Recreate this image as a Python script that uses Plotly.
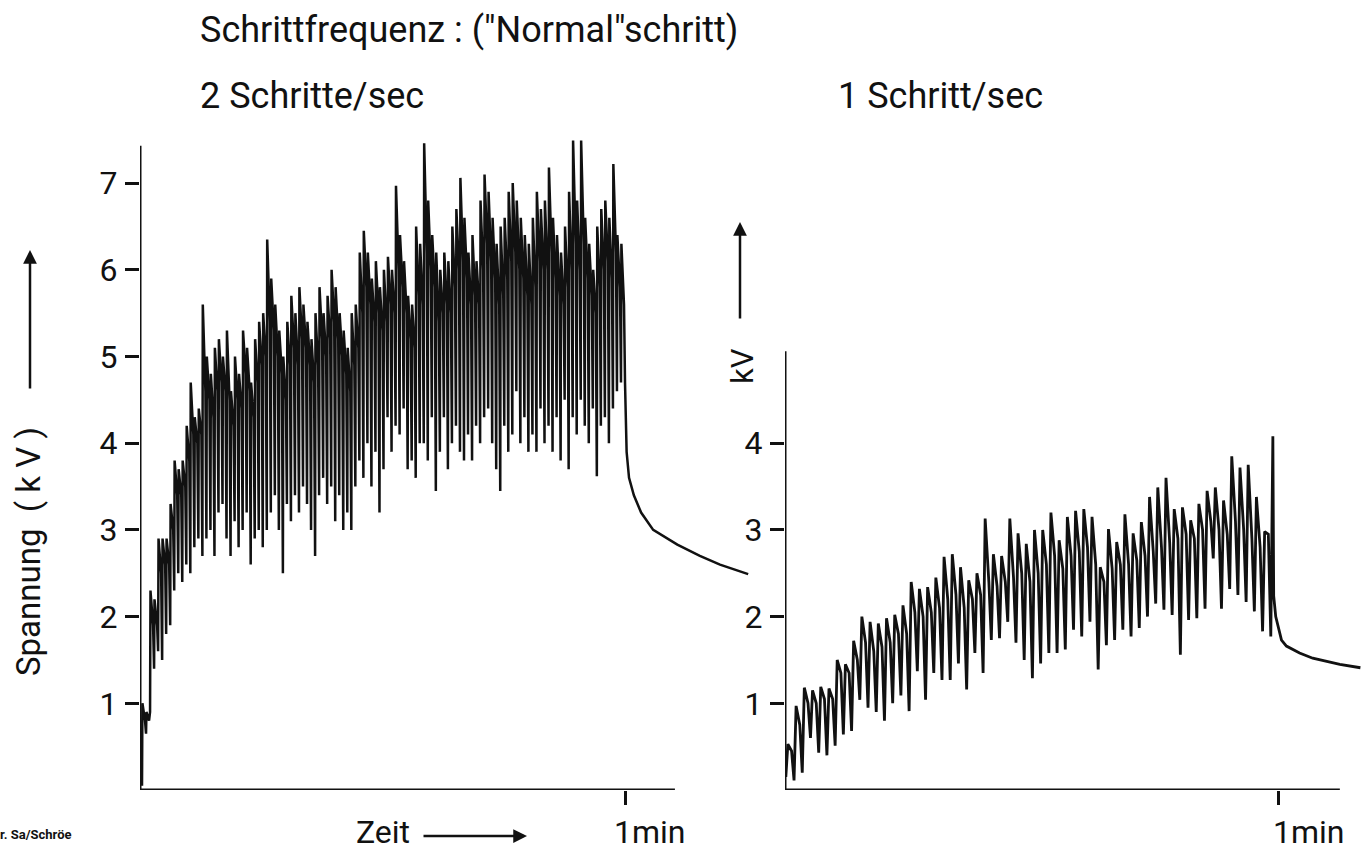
import plotly.graph_objects as go

W, H = 1365, 852

# ---------------- Left panel: 2 Schritte/sec (one value per step, kV) ----------------
left_step_period = 0.5  # s
left_troughs = [
    0.05, 0.65, 0.9, 1.4, 1.6, 1.5, 1.8, 1.9, 2.3, 2.5,
    2.4, 2.6, 2.5, 2.8, 2.9, 2.7, 2.9, 3.0, 2.7, 3.2,
    3.3, 2.9, 2.7, 3.1, 2.8, 3.0, 3.2, 2.6, 2.9, 3.0,
    2.8, 3.0, 3.2, 3.4, 3.0, 2.5, 3.3, 3.1, 3.4, 3.2,
    3.5, 3.3, 3.0, 2.7, 3.4, 3.6, 3.3, 3.5, 3.1, 3.4,
    3.0, 3.2, 3.0, 3.5, 3.8, 3.6, 4.0, 3.5, 3.9, 3.2,
    3.7, 4.3, 3.9, 4.2, 4.1, 4.4, 3.7, 3.8, 3.6, 4.0,
    4.0, 3.8, 4.3, 3.45, 3.9, 4.3, 3.7, 4.0, 4.2, 3.9,
    3.8, 4.1, 3.8, 4.2, 4.0, 4.3, 4.4, 4.0, 3.7, 3.45,
    4.2, 3.9, 4.1, 4.6, 4.0, 4.3, 3.9, 4.1, 3.9, 4.4,
    4.0, 4.2, 3.9, 4.3, 3.8, 4.5, 3.7, 4.3, 4.1, 4.5,
    4.2, 4.0, 4.4, 3.62, 4.2, 4.3, 4.0, 4.4, 4.6, 4.7,
]
left_peaks = [
    1.0, 0.9, 2.3, 2.2, 2.9, 2.9, 2.9, 3.3, 3.8, 3.7,
    3.8, 4.2, 4.7, 4.3, 4.4, 5.6, 5.0, 4.8, 5.1, 5.2,
    5.0, 5.3, 4.6, 5.0, 4.8, 5.3, 5.1, 4.7, 5.2, 5.4,
    5.5, 6.35, 5.9, 5.6, 5.3, 5.0, 5.4, 5.7, 5.5, 5.8,
    5.6, 5.4, 5.2, 5.5, 5.8, 5.5, 5.7, 6.0, 5.8, 5.5,
    5.3, 5.1, 5.5, 5.6, 6.2, 6.45, 6.2, 5.9, 6.1, 5.8,
    6.0, 6.15, 6.0, 6.97, 6.4, 6.1, 5.7, 5.6, 6.5, 6.3,
    7.46, 6.8, 6.4, 6.2, 6.0, 6.2, 6.1, 6.5, 6.7, 7.06,
    6.6, 6.2, 6.4, 6.1, 6.8, 7.1, 6.9, 6.6, 6.3, 6.5,
    6.6, 6.9, 7.0, 6.8, 6.6, 6.4, 6.3, 6.6, 6.9, 6.7,
    6.8, 7.18, 6.6, 6.4, 6.2, 6.5, 6.9, 7.49, 6.8, 7.49,
    6.6, 6.3, 6.0, 6.5, 6.7, 6.8, 6.6, 7.22, 6.4, 6.3,
]
left_plateaus = [
    0.8, 0.8, 1.9, 1.9, 2.5, 2.6, 2.6, 3.0, 3.4, 3.4,
    3.5, 3.8, 4.1, 4.0, 4.1, 4.6, 4.5, 4.3, 4.6, 4.7,
    4.6, 4.5, 4.2, 4.5, 4.4, 4.8, 4.6, 4.3, 4.7, 4.9,
    5.0, 5.4, 5.3, 5.0, 4.8, 4.5, 4.9, 5.1, 4.9, 5.2,
    5.1, 4.9, 4.7, 4.9, 5.2, 5.0, 5.2, 5.4, 5.2, 5.0,
    4.8, 4.6, 4.9, 5.1, 5.5, 5.8, 5.6, 5.4, 5.5, 5.3,
    5.4, 5.6, 5.5, 6.0, 5.8, 5.5, 5.2, 5.1, 5.7, 5.6,
    6.2, 6.0, 5.8, 5.4, 5.5, 5.6, 5.5, 5.8, 6.0, 6.1,
    5.9, 5.6, 5.7, 5.6, 6.0, 6.3, 6.1, 5.9, 5.6, 5.7,
    5.9, 6.1, 6.2, 6.0, 5.9, 5.7, 5.6, 5.8, 6.1, 6.0,
    6.0, 6.2, 5.9, 5.7, 5.6, 5.8, 6.0, 6.3, 6.0, 6.3,
    5.9, 5.7, 5.5, 5.8, 6.0, 6.1, 5.9, 6.2, 5.8, 5.6,
]
left_decay_t = [60.0, 60.2, 60.5, 61.1, 62.0, 63.5, 66.5, 69.3, 71.8, 75.3]
left_decay_v = [4.7, 3.9, 3.6, 3.4, 3.2, 3.0, 2.83, 2.7, 2.6, 2.49]

# ---------------- Right panel: 1 Schritt/sec ----------------
right_step_period = 1.0  # s
right_troughs = [
    0.15, 0.11, 0.2, 0.6, 0.43, 0.4, 0.51, 0.64, 0.68, 1.04,
    0.95, 0.9, 0.8, 1.0, 1.09, 0.91, 1.37, 1.04, 1.35, 1.27,
    1.27, 1.46, 1.16, 1.58, 1.35, 1.73, 1.75, 1.94, 1.7, 1.5,
    1.29, 1.46, 1.58, 1.58, 1.62, 1.85, 1.77, 1.94, 1.39, 1.67,
    1.73, 1.85, 1.77, 1.87, 2.0, 2.15, 2.08, 2.02, 1.56, 1.96,
    1.98, 2.09, 2.67, 2.09, 2.32, 2.25, 2.17, 2.06, 1.83, 1.77,
]
right_peaks = [
    0.53, 0.97, 1.18, 1.15, 1.19, 1.17, 1.5, 1.45, 1.72, 2.0,
    1.94, 1.92, 1.98, 2.02, 2.13, 2.4, 2.32, 2.34, 2.45, 2.69,
    2.72, 2.57, 2.42, 2.5, 3.13, 2.72, 2.7, 3.13, 2.96, 2.84,
    3.0, 3.0, 3.2, 2.88, 3.15, 3.22, 3.24, 3.15, 2.57, 3.01,
    2.86, 3.18, 2.96, 3.09, 3.38, 3.49, 3.6, 3.24, 3.26, 3.11,
    3.3, 3.45, 3.49, 3.34, 3.85, 3.72, 3.75, 3.38, 2.98, 4.08,
]
right_shoulders = [
    0.45, 0.75, 1.0, 1.0, 1.05, 1.05, 1.35, 1.35, 1.5, 1.7,
    1.6, 1.65, 1.7, 1.8, 1.8, 2.05, 2.0, 2.05, 2.1, 2.2,
    2.25, 2.1, 2.2, 2.25, 2.4, 2.35, 2.4, 2.45, 2.5, 2.4,
    2.5, 2.6, 2.7, 2.55, 2.7, 2.75, 2.8, 2.6, 2.4, 2.55,
    2.6, 2.6, 2.65, 2.7, 2.75, 2.8, 2.85, 2.9, 2.95, 2.9,
    3.0, 3.1, 3.0, 2.95, 3.1, 3.0, 2.9, 2.8, 2.95,
]
right_decay_t = [59.45, 59.7, 60.4, 61.0, 62.6, 64.2, 67.5, 70.0]
right_decay_v = [2.24, 2.0, 1.73, 1.66, 1.58, 1.52, 1.45, 1.41]


def build(troughs, peaks, mids, period, t0, f_peak, f_mid, dec_t, dec_v):
    ts, vs = [], []
    for i, (tr, pk) in enumerate(zip(troughs, peaks)):
        t = t0 + i * period
        ts += [t, t + f_peak * period]
        vs += [tr, pk]
        if i < len(mids):
            ts.append(t + f_mid * period)
            vs.append(mids[i])
    return ts + dec_t, vs + dec_v


lt, lv = build(left_troughs, left_peaks, left_plateaus, left_step_period,
               0.0, 0.1, 0.75, left_decay_t, left_decay_v)
rt, rv = build(right_troughs, right_peaks, right_shoulders, right_step_period,
               0.1, 0.25, 0.7, right_decay_t, right_decay_v)

fig = go.Figure()
fig.add_trace(go.Scatter(x=lt, y=lv, mode="lines", xaxis="x", yaxis="y",
                         line=dict(color="#111", width=2.5, simplify=False),
                         showlegend=False, hoverinfo="skip"))
fig.add_trace(go.Scatter(x=rt, y=rv, mode="lines", xaxis="x2", yaxis="y2",
                         line=dict(color="#111", width=2.8, simplify=False),
                         showlegend=False, hoverinfo="skip"))

FONT = "Roboto, 'DejaVu Sans', sans-serif"
y_dom = [1 - 790 / H, 1 - 130 / H]
y_rng = [0, 660 / 86.7]
lx_px_per_s = 8.05
rx_px_per_s = 8.22

axis_common = dict(showgrid=False, zeroline=False, showline=False,
                   ticks="outside", ticklen=14, tickwidth=2.5, tickcolor="#111",
                   tickfont=dict(family=FONT, size=32, color="#111"))

fig.update_layout(
    width=W, height=H,
    margin=dict(l=0, r=0, t=0, b=0),
    paper_bgcolor="white", plot_bgcolor="white",
    xaxis=dict(domain=[140 / W, 760 / W], range=[-0.25, -0.25 + 620 / lx_px_per_s],
               tickvals=[60], showticklabels=False, **axis_common),
    xaxis2=dict(domain=[785 / W, 1.0], range=[0, 580 / rx_px_per_s],
                tickvals=[60], showticklabels=False, **axis_common),
    yaxis=dict(domain=y_dom, range=y_rng, anchor="x",
               tickvals=[1, 2, 3, 4, 5, 6, 7], ticktext=["1", "2", "3", "4", "5", "6", "7"],
               ticklabelstandoff=1, **axis_common),
    yaxis2=dict(domain=y_dom, range=y_rng, anchor="x2",
                tickvals=[1, 2, 3, 4], ticktext=["1", "2", "3", "4"],
                ticklabelstandoff=1, **axis_common),
)

# axis lines
ln = dict(color="#111", width=3)
fig.add_shape(type="line", xref="x", yref="y", x0=-0.25, x1=-0.25, y0=0, y1=7.43, line=ln)
fig.add_shape(type="line", xref="x", yref="y", x0=-0.25, x1=66.2, y0=0, y1=0, line=ln)
fig.add_shape(type="line", xref="x2", yref="y2", x0=0, x1=0, y0=0, y1=5.06, line=ln)
fig.add_shape(type="line", xref="x2", yref="y2", x0=0, x1=67.5, y0=0, y1=0, line=ln)


def px(x):
    return x / W


def py(y):
    return 1 - y / H


def text(t, x, y, size=30, anchor="left", angle=0, bold=False):
    fig.add_annotation(text=("<b>%s</b>" % t) if bold else t, x=px(x), y=py(y),
                       xref="paper", yref="paper", showarrow=False,
                       xanchor=anchor, yanchor="middle", textangle=angle,
                       font=dict(family=FONT, size=size, color="#111"))


def arrow(x_head, y_head, dx, dy):
    fig.add_annotation(text="", x=px(x_head), y=py(y_head), xref="paper", yref="paper",
                       showarrow=True, ax=dx, ay=dy, arrowhead=2, arrowsize=1.1,
                       arrowwidth=2.5, arrowcolor="#111", standoff=0, startstandoff=0)


text('Schrittfrequenz : ("Normal"schritt)', 198, 30, size=36)
text("2 Schritte/sec", 198, 96, size=36)
text("1 Schritt/sec", 836, 96, size=36)
text("Spannung  ( k V )", 28, 552, size=33, anchor="center", angle=-90)
arrow(30, 250, 0, 140)
text("kV", 742, 366, size=31, anchor="center", angle=-90)
arrow(740, 222, 0, 98)
text("Zeit", 354, 832, size=32)
arrow(527, 836, -105, 0)
text("1min", 612, 832, size=32)
text("1min", 1271, 832, size=32)
text("r. Sa/Schröe", -2, 834, size=13, bold=True)

fig.write_html("out.html")
